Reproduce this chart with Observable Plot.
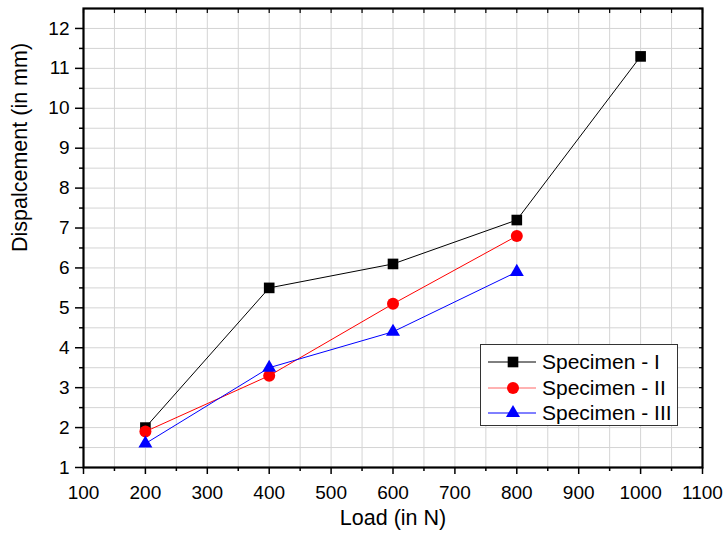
<!DOCTYPE html>
<html><head><meta charset="utf-8">
<script src="https://cdn.jsdelivr.net/npm/d3@7"></script>
<script src="https://cdn.jsdelivr.net/npm/@observablehq/plot@0.6"></script>
<style>
body{margin:0;background:#fff;font-family:"Liberation Sans",Arial,sans-serif;}
#wrap{position:relative;width:723px;height:540px;}
#legend{position:absolute;left:480px;top:344px;width:198px;height:82px;border:1px solid #333;background:#fff;box-sizing:border-box;font-size:21px;color:#000;}
#legend .row{position:absolute;left:0;height:26px;display:flex;align-items:center;}
#legend svg{display:block}
</style>
</head><body>
<div id="wrap"><div id="chart"></div><div id="legend"></div></div>
<script>
const loads = [200, 400, 600, 800, 1000];
const specimenI = [2.0, 5.5, 6.1, 7.2, 11.3];
const specimenII = [1.9, 3.3, 5.1, 6.8];
const specimenIII = [1.6, 3.5, 4.4, 5.9];
const seriesNames = ["Specimen - I", "Specimen - II", "Specimen - III"];
const seriesColors = ["#000000", "#ff0000", "#0000ff"];
const seriesSymbols = ["square", "circle", "triangle"];
const xTicks = [100,200,300,400,500,600,700,800,900,1000,1100];
const yTicks = [1,2,3,4,5,6,7,8,9,10,11,12];

const data = [];
[specimenI, specimenII, specimenIII].forEach((vals, si) => {
  vals.forEach((v, i) => data.push({series: seriesNames[si], load: loads[i], disp: v}));
});
const xMinor = d3.range(150, 1100, 100);
const yMinor = d3.range(1.5, 12.5, 1);
const xGrid = d3.range(100, 1101, 50);
const yGrid = d3.range(1, 12.51, 0.5);

const rFor = {square: 6, circle: 6, triangle: 5.2};
const marks = [
  Plot.ruleX(xGrid, {stroke: "#d4d4d4", strokeWidth: 1}),
  Plot.ruleY(yGrid, {stroke: "#d4d4d4", strokeWidth: 1}),
  Plot.axisX({ticks: xTicks, tickSize: 7, tickPadding: 11, fontSize: 19, tickFormat: "d", label: null, strokeWidth: 1.5}),
  Plot.axisX({ticks: xMinor, tickSize: 4, text: null, label: null, strokeWidth: 1.5}),
  Plot.axisY({ticks: yTicks, tickSize: 8, tickPadding: 6, fontSize: 19, tickFormat: "d", label: null, strokeWidth: 1.5}),
  Plot.axisY({ticks: yMinor, tickSize: 4, text: null, label: null, strokeWidth: 1.5}),
  Plot.axisY({anchor: "right", ticks: yGrid, tickSize: -4, text: null, label: null, strokeWidth: 1.2}),
  Plot.axisX({anchor: "top", ticks: xGrid, tickSize: -4, text: null, label: null, strokeWidth: 1.2}),
  Plot.frame({stroke: "#000", strokeWidth: 2.2}),
];
seriesNames.forEach((name, si) => {
  const d = data.filter(p => p.series === name);
  marks.push(Plot.line(d, {x: "load", y: "disp", stroke: seriesColors[si], strokeWidth: 1}));
  marks.push(Plot.dot(d, {x: "load", y: "disp", symbol: () => seriesSymbols[si], r: rFor[seriesSymbols[si]], fill: seriesColors[si], stroke: "none"}));
});

const chart = Plot.plot({
  width: 723, height: 540,
  marginLeft: 83, marginRight: 21, marginTop: 8, marginBottom: 73,
  style: {fontFamily: "'Liberation Sans', Arial, sans-serif", fontSize: "19px", color: "#000", background: "#fff"},
  x: {domain: [100, 1100]},
  y: {domain: [1, 12.5]},
  marks: [
    ...marks,
    Plot.text(["Load (in N)"], {frameAnchor: "bottom", dy: 57, fontSize: 21.5, fill: "#000"}),
    Plot.text(["Dispalcement (in mm)"], {frameAnchor: "left", dx: -63, dy: 14, rotate: -90, fontSize: 21.5, fill: "#000"})
  ]
});
// enlarge numeric tick labels
d3.select(chart).selectAll("text").each(function() {
  if (/^\d+$/.test(this.textContent.trim())) {
    this.style.fontSize = "19px";
  }
});
d3.select(chart).selectAll("g").each(function() {
  const lab = this.getAttribute("aria-label") || "";
  if (lab.includes("tick label")) { this.setAttribute("font-size", 19); this.style.fontSize = "19px"; }
});
document.getElementById("chart").appendChild(chart);

// legend
const leg = document.getElementById("legend");
seriesNames.forEach((name, si) => {
  const row = document.createElement("div");
  row.className = "row";
  row.style.top = (4 + si * 25.5) + "px";
  const svg = d3.create("svg").attr("width", 58).attr("height", 26);
  svg.append("line").attr("x1", 7).attr("x2", 55).attr("y1", 13).attr("y2", 13).attr("stroke", seriesColors[si]).attr("stroke-width", 1).attr("opacity", si === 1 ? 0.6 : 1);
  const sym = {square: d3.symbolSquare, circle: d3.symbolCircle, triangle: d3.symbolTriangle}[seriesSymbols[si]];
  const r = rFor[seriesSymbols[si]];
  svg.append("path").attr("d", d3.symbol(sym, Math.PI * r * r)()).attr("transform", "translate(32,13)").attr("fill", seriesColors[si]);
  row.appendChild(svg.node());
  const t = document.createElement("span");
  t.textContent = name;
  t.style.marginLeft = "3px";
  row.appendChild(t);
  leg.appendChild(row);
});
</script>
</body></html>
